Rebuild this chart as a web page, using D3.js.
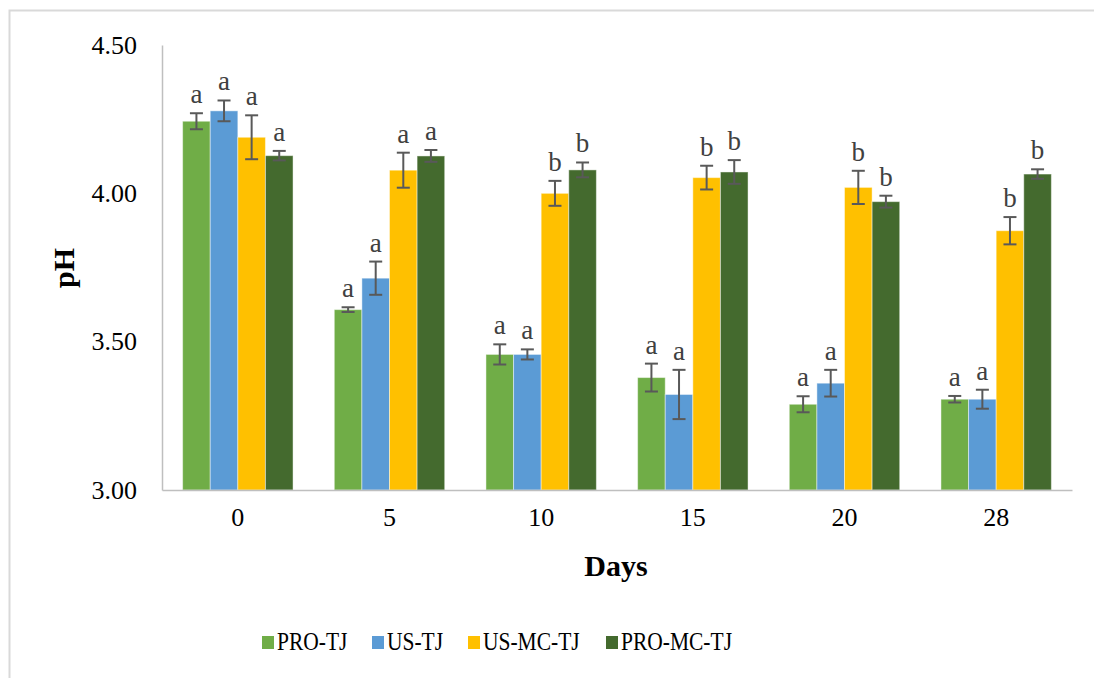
<!DOCTYPE html>
<html>
<head>
<meta charset="utf-8">
<script src="https://cdn.jsdelivr.net/npm/d3@7"></script>
<style>
  html, body { margin: 0; padding: 0; background: #ffffff; }
  svg { display: block; }
  text { font-family: "Liberation Serif", "Times New Roman", serif; fill: #000; }
</style>
</head>
<body>
<svg id="chart" width="1094" height="678"></svg>
<script>
const days = ["0", "5", "10", "15", "20", "28"];
const series = ["PRO-TJ", "US-TJ", "US-MC-TJ", "PRO-MC-TJ"];
const colors = ["#70ad47", "#5b9bd5", "#ffc000", "#446a2e"];
const yTicks = [3.00, 3.50, 4.00, 4.50];

const proTJ    = [4.243, 3.608, 3.457, 3.379, 3.289, 3.306];
const usTJ     = [4.278, 3.714, 3.457, 3.322, 3.360, 3.306];
const usMcTJ   = [4.189, 4.078, 4.000, 4.053, 4.020, 3.874];
const proMcTJ  = [4.127, 4.126, 4.079, 4.072, 3.972, 4.065];

const proTJErr   = [0.027, 0.008, 0.034, 0.047, 0.027, 0.011];
const usTJErr    = [0.035, 0.056, 0.017, 0.083, 0.045, 0.032];
const usMcTJErr  = [0.074, 0.059, 0.042, 0.040, 0.056, 0.046];
const proMcTJErr = [0.016, 0.020, 0.025, 0.040, 0.020, 0.016];

const proTJLet   = ["a", "a", "a", "a", "a", "a"];
const usTJLet    = ["a", "a", "a", "a", "a", "a"];
const usMcTJLet  = ["a", "a", "b", "b", "b", "b"];
const proMcTJLet = ["a", "a", "b", "b", "b", "b"];

const values = [proTJ, usTJ, usMcTJ, proMcTJ];
const errors = [proTJErr, usTJErr, usMcTJErr, proMcTJErr];
const letters = [proTJLet, usTJLet, usMcTJLet, proMcTJLet];

const svg = d3.select("#chart");

// outer frame
svg.append("rect")
  .attr("x", 9.5).attr("y", 10.5)
  .attr("width", 1200).attr("height", 800)
  .attr("fill", "none").attr("stroke", "#d9d9d9").attr("stroke-width", 2);

const plotL = 162, plotR = 1072, plotT = 45, plotB = 490;

const x = d3.scaleBand().domain(days).range([plotL, plotR]).padding(0);
const bw = x.bandwidth();
const groupW = bw * 0.728;
const xi = d3.scaleBand().domain(series).range([0, groupW]).padding(0);
const y = d3.scaleLinear().domain([3.0, 4.5]).range([plotB, plotT]);

const rows = [];
series.forEach((s, si) => {
  days.forEach((d, di) => {
    rows.push({ s, si, d, v: values[si][di], e: errors[si][di], l: letters[si][di] });
  });
});

const barX = r => x(r.d) + (bw - groupW) / 2 + xi(r.s);

// bars
svg.append("g").selectAll("rect").data(rows).join("rect")
  .attr("x", r => barX(r))
  .attr("y", r => y(r.v))
  .attr("width", xi.bandwidth())
  .attr("height", r => y(3.0) - y(r.v))
  .attr("fill", r => colors[r.si])
  .attr("stroke", "#ffffff").attr("stroke-opacity", 0.45).attr("stroke-width", 1);

// error bars
const eg = svg.append("g").attr("stroke", "#595959").attr("stroke-width", 2);
rows.forEach(r => {
  const cx = barX(r) + xi.bandwidth() / 2;
  const y1 = y(r.v + r.e), y2 = y(r.v - r.e);
  eg.append("line").attr("x1", cx).attr("x2", cx).attr("y1", y1).attr("y2", y2);
  eg.append("line").attr("x1", cx - 6.5).attr("x2", cx + 6.5).attr("y1", y1).attr("y2", y1);
  eg.append("line").attr("x1", cx - 6.5).attr("x2", cx + 6.5).attr("y1", y2).attr("y2", y2);
});

// letters
svg.append("g").selectAll("text").data(rows).join("text")
  .attr("x", r => barX(r) + xi.bandwidth() / 2)
  .attr("y", r => y(r.v + r.e) - 10)
  .attr("text-anchor", "middle")
  .attr("font-size", 27)
  .style("fill", "#404040")
  .text(r => r.l);

// y axis
const yAxis = svg.append("g").attr("transform", `translate(${plotL},0)`)
  .call(d3.axisLeft(y).tickValues(yTicks).tickFormat(d3.format(".2f")).tickSize(0).tickPadding(25));
yAxis.select(".domain").attr("stroke", "#bfbfbf").attr("stroke-width", 1.5);
yAxis.selectAll("text").attr("font-size", 26).attr("font-family", "Liberation Serif, serif").attr("fill", "#000");

// x axis
const xAxis = svg.append("g").attr("transform", `translate(0,${plotB})`)
  .call(d3.axisBottom(x).tickSize(0).tickPadding(18));
xAxis.select(".domain").attr("stroke", "#bfbfbf").attr("stroke-width", 1.5);
xAxis.selectAll("text").attr("font-size", 26).attr("font-family", "Liberation Serif, serif").attr("fill", "#000");

// axis titles
svg.append("text")
  .attr("transform", "translate(74,268) rotate(-90)")
  .attr("text-anchor", "middle")
  .attr("font-size", 30).attr("font-weight", "bold")
  .text("pH");
svg.append("text")
  .attr("x", 616).attr("y", 576)
  .attr("text-anchor", "middle")
  .attr("font-size", 30).attr("font-weight", "bold")
  .text("Days");

// legend
const legendX = [262, 372, 468, 606];
const lg = svg.append("g");
series.forEach((s, i) => {
  lg.append("rect").attr("x", legendX[i]).attr("y", 636).attr("width", 12).attr("height", 13)
    .attr("fill", colors[i]);
  lg.append("text").attr("transform", `translate(${legendX[i] + 15},650) scale(0.86,1)`)
    .attr("font-size", 25).text(s);
});
</script>
</body>
</html>
